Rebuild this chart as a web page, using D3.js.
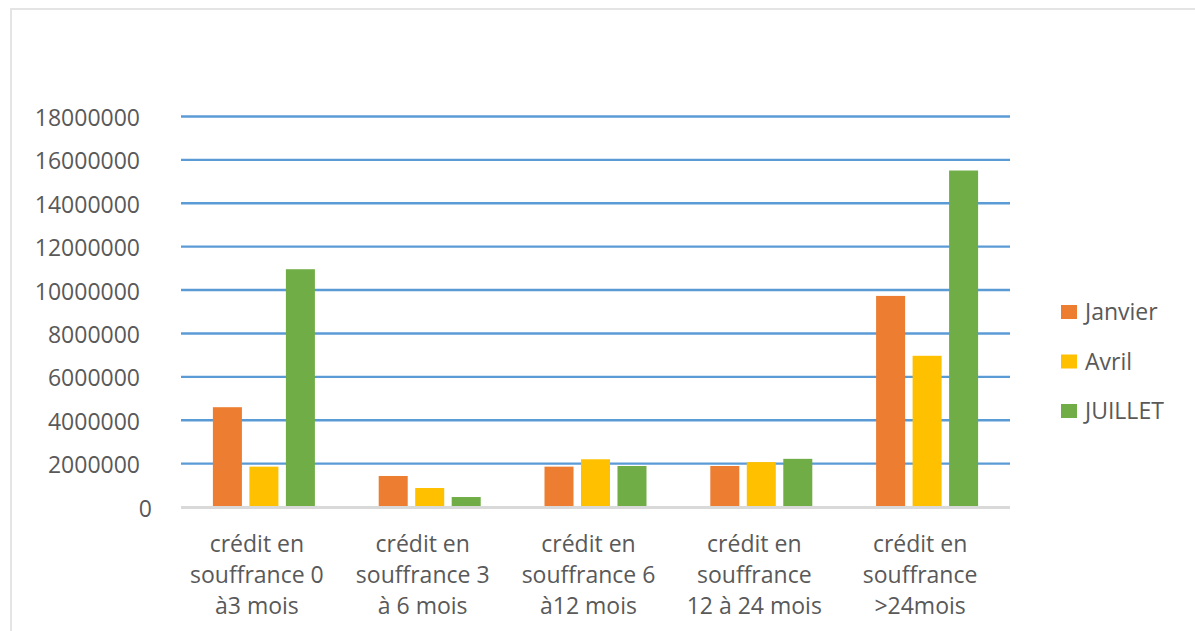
<!DOCTYPE html>
<html><head><meta charset="utf-8">
<script src="https://cdn.jsdelivr.net/npm/d3@7"></script>
<style>
html,body{margin:0;padding:0;background:#fff;}
svg text{font-family:"Open Sans",sans-serif;fill:#595959;}
</style></head>
<body>
<svg id="c" width="1195" height="631"></svg>
<script>
const categories = [
  ["crédit en","souffrance 0","à3 mois"],
  ["crédit en","souffrance 3","à 6 mois"],
  ["crédit en","souffrance 6","à12 mois"],
  ["crédit en","souffrance","12 à 24 mois"],
  ["crédit en","souffrance",">24mois"]
];
const seriesNames = ["Janvier","Avril","JUILLET"];
const janvier = [4600000, 1430000, 1860000, 1890000, 9730000];
const avril   = [1860000,  875000, 2200000, 2070000, 6970000];
const juillet = [10960000, 460000, 1890000, 2220000, 15510000];
const yTicks = [0,2000000,4000000,6000000,8000000,10000000,12000000,14000000,16000000,18000000];
const colors = ["#ED7D31","#FFC000","#70AD47"];

const seriesValues = [janvier, avril, juillet];
const svg = d3.select("#c");

// chart frame
svg.append("path").attr("d","M11,631 V9 H1195").attr("fill","none").attr("stroke","#e4e4e4").attr("stroke-width",2);

const x = d3.scaleBand().domain(d3.range(categories.length)).range([181,1010]).padding(0);
const xs = d3.scaleBand().domain(d3.range(seriesNames.length))
  .range([(x.bandwidth()-102)/2,(x.bandwidth()+102)/2]).paddingInner(0.205).paddingOuter(0);
const y = d3.scaleLinear().domain([0,18000000]).range([507,116.5]);

// gridlines
svg.append("g").selectAll("line").data(yTicks.filter(d=>d>0)).join("line")
  .attr("x1",181).attr("x2",1010).attr("y1",d=>y(d)).attr("y2",d=>y(d))
  .attr("stroke","#5B9BD5").attr("stroke-width",2.4);

// y axis labels
const yAxis = d3.axisLeft(y).tickValues(yTicks).tickSize(0).tickPadding(0).tickFormat(d3.format("d"));
const ga = svg.append("g").attr("transform","translate(140,0)").call(yAxis);
ga.select(".domain").remove();
ga.selectAll("text").attr("font-size",23).attr("font-family","Open Sans").attr("fill","#595959")
  .attr("dy",null).attr("dominant-baseline","central")
  .attr("dx",d=>d===0?12:0);

// bars
const groups = svg.append("g").selectAll("g").data(categories).join("g")
  .attr("transform",(d,i)=>`translate(${x(i)},0)`);
groups.selectAll("rect").data((d,i)=>seriesValues.map((s,j)=>({j,v:s[i]}))).join("rect")
  .attr("x",d=>xs(d.j)).attr("width",xs.bandwidth())
  .attr("y",d=>y(d.v)).attr("height",d=>y(0)-y(d.v))
  .attr("fill",d=>colors[d.j]);

// baseline
svg.append("line").attr("x1",181).attr("x2",1010).attr("y1",y(0)+0.5).attr("y2",y(0)+0.5)
  .attr("stroke","#d9d9d9").attr("stroke-width",3);

// category labels
const lineY = [552,583,614];
groups.each(function(lines,i){
  const g = d3.select(this);
  lines.forEach((t,k)=>{
    g.append("text").attr("x",x.bandwidth()/2-7).attr("y",lineY[k])
      .attr("text-anchor","middle").attr("font-size",23).text(t);
  });
});

// legend
const leg = svg.append("g").selectAll("g").data(seriesNames).join("g")
  .attr("transform",(d,i)=>`translate(1061,${312+i*49.5})`);
leg.append("rect").attr("x",0).attr("y",-7).attr("width",16).attr("height",14).attr("fill",(d,i)=>colors[i]);
leg.append("text").attr("x",24).attr("y",8).attr("font-size",23).text(d=>d);
</script>
</body></html>
